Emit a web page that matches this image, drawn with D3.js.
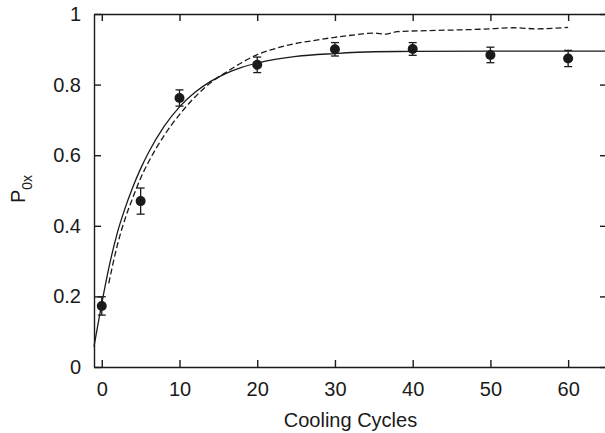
<!DOCTYPE html>
<html>
<head>
<meta charset="utf-8">
<script src="https://cdn.jsdelivr.net/npm/d3@7"></script>
<style>
  html, body { margin: 0; padding: 0; background: #fff; }
  svg { display: block; overflow: hidden; }
</style>
</head>
<body>
<div id="chart"></div>
<script>
// measured points (cooling cycles, P0x, error)
var cycles = [0, 5, 10, 20, 30, 40, 50, 60];
var p0x = [0.173, 0.470, 0.762, 0.856, 0.900, 0.901, 0.884, 0.874];
var p0xErr = [0.026, 0.037, 0.023, 0.022, 0.019, 0.018, 0.022, 0.023];

// solid fit curve
var fitX = [-1, 0, 1, 2, 3, 4, 5, 6, 8, 10, 12, 14, 16, 18, 20, 25, 30, 35, 40, 50, 65];
var fitY = [0.058, 0.18, 0.29, 0.38, 0.45, 0.51, 0.562, 0.607, 0.681, 0.737, 0.778, 0.809, 0.832, 0.849, 0.861, 0.88, 0.888, 0.893, 0.894, 0.895, 0.895];

// dashed simulation curve
var simX = [0.9, 2, 3, 4, 5, 6, 8, 10, 12, 14, 16, 18, 20, 22, 24, 27, 30, 33, 35, 36.5, 38, 42, 46, 49, 53, 56, 60];
var simY = [0.237, 0.345, 0.42, 0.48, 0.535, 0.58, 0.655, 0.715, 0.765, 0.805, 0.835, 0.862, 0.885, 0.9, 0.912, 0.924, 0.934, 0.942, 0.946, 0.943, 0.95, 0.953, 0.955, 0.957, 0.961, 0.958, 0.962];

var xTicks = [0, 10, 20, 30, 40, 50, 60];
var yTicks = [0, 0.2, 0.4, 0.6, 0.8, 1];

var width = 605, height = 433;
var margin = {left: 94, right: 607, top: 14, bottom: 367};
var ink = "#1a1a1a";
var font = "'Liberation Sans', Arial, Helvetica, sans-serif";

var svg = d3.select("#chart").append("svg")
  .attr("width", width)
  .attr("height", height);

var x = d3.scaleLinear().domain([-1, 65]).range([margin.left, margin.right]);
var y = d3.scaleLinear().domain([0, 1]).range([margin.bottom, margin.top]);

function styleAxis(g) {
  g.selectAll("path, line").attr("stroke", ink).attr("stroke-width", 1.4);
  g.selectAll("text").attr("fill", ink).style("font-family", font).style("font-size", "20px");
}

svg.append("g")
  .attr("transform", "translate(0," + margin.bottom + ")")
  .call(d3.axisBottom(x).tickValues(xTicks).tickFormat(d3.format("d")).tickSize(-7).tickSizeOuter(0).tickPadding(15))
  .call(styleAxis);

svg.append("g")
  .attr("transform", "translate(0," + margin.top + ")")
  .call(d3.axisTop(x).tickValues(xTicks).tickFormat("").tickSize(-7).tickSizeOuter(0))
  .call(styleAxis);

svg.append("g")
  .attr("transform", "translate(" + margin.left + ",0)")
  .call(d3.axisLeft(y).tickValues(yTicks).tickFormat(function(d) { return d === 0 || d === 1 ? d3.format("d")(d) : d3.format(".1f")(d); }).tickSize(-7).tickSizeOuter(0).tickPadding(13))
  .call(styleAxis);

svg.append("g")
  .attr("transform", "translate(" + margin.right + ",0)")
  .call(d3.axisRight(y).tickValues(yTicks).tickFormat("").tickSize(-7).tickSizeOuter(0))
  .call(styleAxis);

// curves
var fit = fitX.map(function(d, i) { return [d, fitY[i]]; });
var sim = simX.map(function(d, i) { return [d, simY[i]]; });

svg.append("path")
  .datum(fit)
  .attr("fill", "none")
  .attr("stroke", ink)
  .attr("stroke-width", 1.3)
  .attr("d", d3.line().x(function(d) { return x(d[0]); }).y(function(d) { return y(d[1]); }).curve(d3.curveMonotoneX));

svg.append("path")
  .datum(sim)
  .attr("fill", "none")
  .attr("stroke", ink)
  .attr("stroke-width", 1.3)
  .attr("stroke-dasharray", "6,3")
  .attr("d", d3.line().x(function(d) { return x(d[0]); }).y(function(d) { return y(d[1]); }).curve(d3.curveMonotoneX));

// error bars and points
var pts = svg.append("g").selectAll("g")
  .data(cycles)
  .enter()
  .append("g");

pts.append("line")
  .attr("x1", function(d) { return x(d); })
  .attr("x2", function(d) { return x(d); })
  .attr("y1", function(d, i) { return y(p0x[i] - p0xErr[i]); })
  .attr("y2", function(d, i) { return y(p0x[i] + p0xErr[i]); })
  .attr("stroke", ink).attr("stroke-width", 1.3);

[-1, 1].forEach(function(s) {
  pts.append("line")
    .attr("x1", function(d) { return x(d) - 4; })
    .attr("x2", function(d) { return x(d) + 4; })
    .attr("y1", function(d, i) { return y(p0x[i] + s * p0xErr[i]); })
    .attr("y2", function(d, i) { return y(p0x[i] + s * p0xErr[i]); })
    .attr("stroke", ink).attr("stroke-width", 1.3);
});

pts.append("circle")
  .attr("cx", function(d) { return x(d); })
  .attr("cy", function(d, i) { return y(p0x[i]); })
  .attr("r", 5)
  .attr("fill", ink);

// axis titles
svg.append("text")
  .attr("x", (margin.left + margin.right) / 2)
  .attr("y", 426.5)
  .attr("text-anchor", "middle")
  .attr("fill", ink)
  .style("font-family", font)
  .style("font-size", "20px")
  .text("Cooling Cycles");

var yl = svg.append("text")
  .attr("transform", "translate(25,189) rotate(-90)")
  .attr("text-anchor", "middle")
  .attr("fill", ink)
  .style("font-family", font)
  .style("font-size", "20px");
yl.append("tspan").text("P");
yl.append("tspan").attr("dy", 6.5).style("font-size", "14px").text("0x");
</script>
</body>
</html>
